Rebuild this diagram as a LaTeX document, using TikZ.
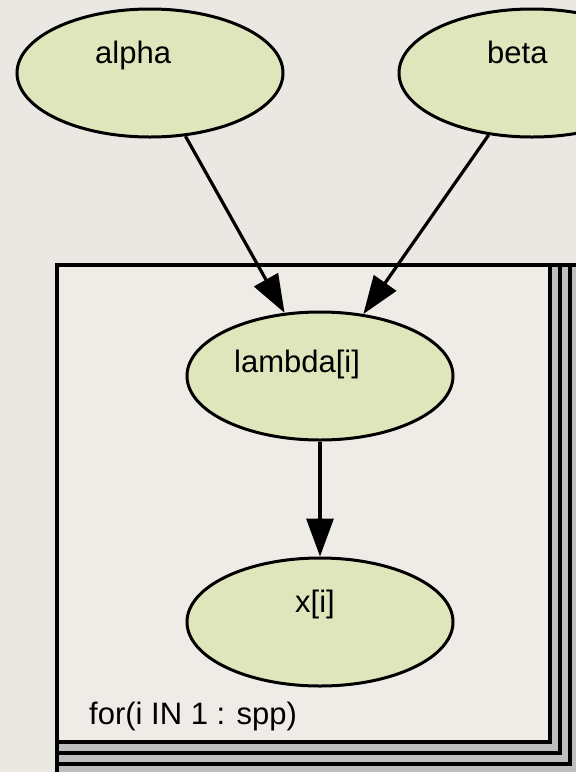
\documentclass[tikz,border=0pt]{standalone}
\usepackage{fontspec}
\setmainfont{Liberation Sans}
\usetikzlibrary{arrows.meta,shapes.geometric}
\definecolor{bgc}{RGB}{235,231,227}
\definecolor{platec}{RGB}{239,236,232}
\definecolor{nodec}{RGB}{224,230,188}
\definecolor{shadowc}{RGB}{190,190,190}
\tikzset{
  stoch/.style={ellipse, draw=black, fill=nodec, line width=3pt,
    minimum width=266pt, minimum height=128pt, inner sep=0pt},
  lbl/.style={anchor=base west, inner sep=0pt, font=\fontsize{31}{37}\selectfont},
  link/.style={line width=3.2pt, -{Triangle[length=38pt,width=27pt]}},
  shadowbox/.style={draw=black, fill=shadowc, line width=3.4pt},
  platebox/.style={draw=black, fill=platec, line width=3.6pt}
}
\begin{document}
\begin{tikzpicture}[x=1pt,y=-1pt]
  \fill[bgc] (0,0) rectangle (576,772);
  \useasboundingbox (0,0) rectangle (576,772);
  % plate with stacked shadows
  \begin{scope}
    \clip (0,0) rectangle (576,772);
    \draw[shadowbox] (57,265) rectangle (581,777);
    \draw[shadowbox] (57,265) rectangle (570,764);
    \draw[shadowbox] (57,265) rectangle (560,753);
    \draw[platebox] (57,265) rectangle (550,742);
  \end{scope}
  \node[lbl] (platelbl) at (89,724) {for(i IN 1 : spp)};
  % nodes
  \node[stoch] (alpha) at (150,73) {};
  \node[stoch] (beta) at (532,73) {};
  \node[stoch] (lambda) at (320,376) {};
  \node[stoch] (x) at (320,622) {};
  \node[lbl] (alphatxt) at (95,63) {alpha};
  \node[lbl] (betatxt) at (487,63) {beta};
  \node[lbl] (lambdatxt) at (234,372) {lambda[i]};
  \node[lbl] (xtxt) at (295,612) {x[i]};
  % edges
  \draw[link] (alpha) -- (lambda);
  \draw[link] (beta) -- (lambda);
  \draw[link] (lambda) -- (x);
\end{tikzpicture}
\end{document}
